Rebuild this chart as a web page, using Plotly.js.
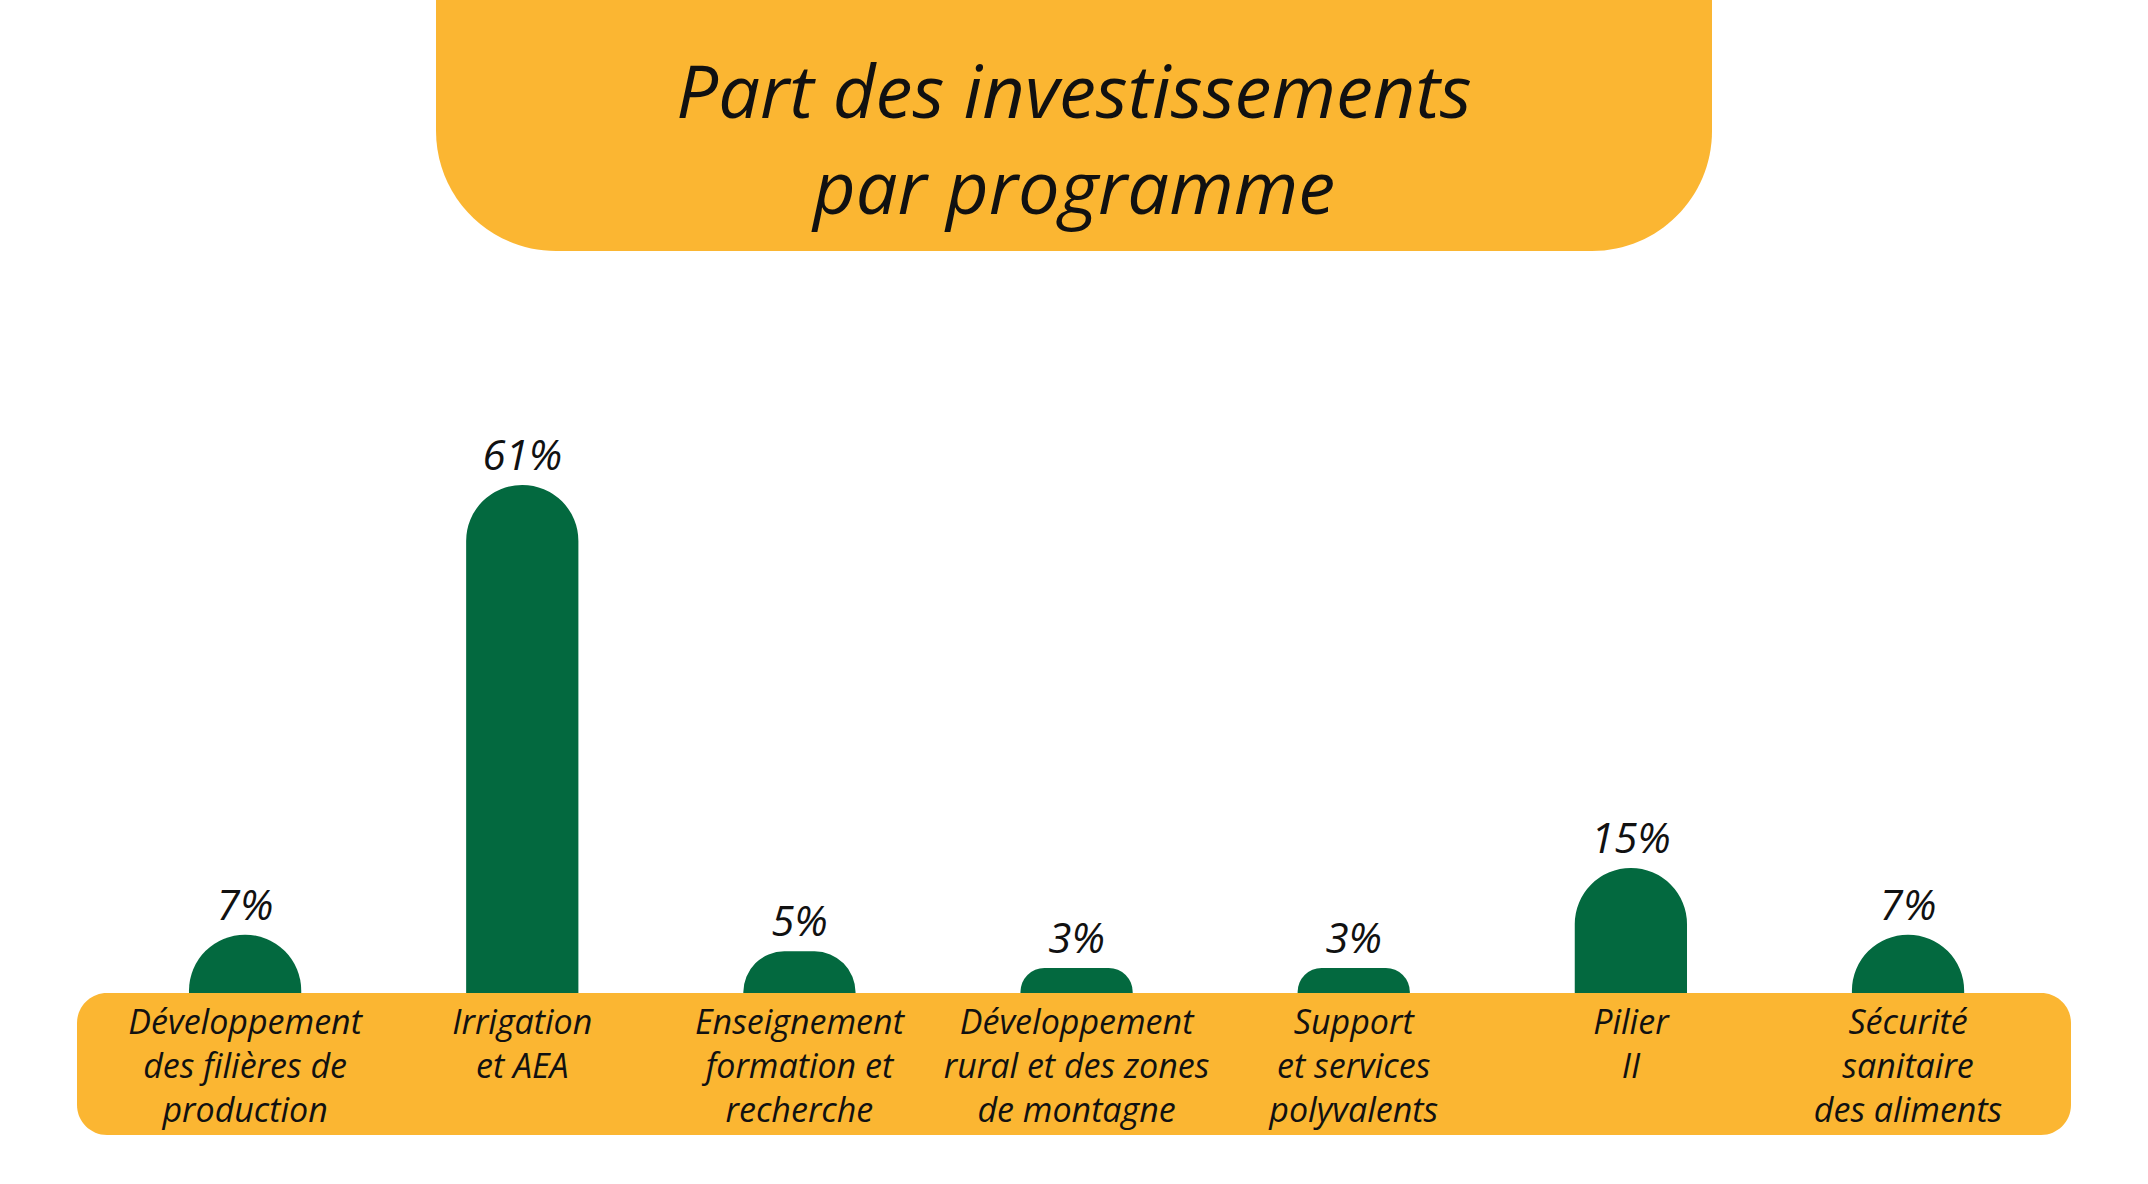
<!DOCTYPE html>
<html lang="fr">
<head>
<meta charset="utf-8">
<title>Part des investissements par programme</title>
<script src="https://cdn.plot.ly/plotly-3.0.1.min.js"></script>
<style>
  html, body { margin: 0; padding: 0; background: #ffffff; }
  #chart { width: 2148px; height: 1184px; }
</style>
</head>
<body>
<div id="chart"></div>
<script>
// Programmes and their share of total investment (%)
const programmes = [
  'Développement des filières de production',
  'Irrigation et AEA',
  'Enseignement formation et recherche',
  'Développement rural et des zones de montagne',
  'Support et services polyvalents',
  'Pilier II',
  'Sécurité sanitaire des aliments'
];
const shares = [7, 61, 5, 3, 3, 15, 7];
const tickLabels = [
  'Développement<br>des filières de<br>production',
  'Irrigation<br>et AEA',
  'Enseignement<br>formation et<br>recherche',
  'Développement<br>rural et des zones<br>de montagne',
  'Support<br>et services<br>polyvalents',
  'Pilier<br>II',
  'Sécurité<br>sanitaire<br>des aliments'
];
const titleLines = ['Part des investissements', 'par programme'];

const W = 2148, H = 1184;
const GREEN = '#03693f';
const ORANGE = '#fbb632';
const FONT = '"Open Sans", Lato, sans-serif';

// pixel -> paper helpers (margins are zero, so paper spans the whole page)
const px = x => x / W;
const py = y => 1 - y / H;
const K = 0.5523; // cubic bezier factor for a quarter circle

function pt(x, y) { return px(x).toFixed(5) + ',' + py(y).toFixed(5); }

// Banner behind the title: square top, rounded bottom corners
function bannerPath(x0, x1, yTop, yBot, r) {
  const k = K * r;
  return 'M' + pt(x0, yTop) +
    ' L' + pt(x0, yBot - r) +
    ' C' + pt(x0, yBot - r + k) + ' ' + pt(x0 + r - k, yBot) + ' ' + pt(x0 + r, yBot) +
    ' L' + pt(x1 - r, yBot) +
    ' C' + pt(x1 - r + k, yBot) + ' ' + pt(x1, yBot - r + k) + ' ' + pt(x1, yBot - r) +
    ' L' + pt(x1, yTop) + ' Z';
}

// Rounded rectangle for the category strip
function roundRectPath(x0, x1, y0, y1, r) {
  const k = K * r;
  return 'M' + pt(x0 + r, y0) +
    ' L' + pt(x1 - r, y0) +
    ' C' + pt(x1 - r + k, y0) + ' ' + pt(x1, y0 + r - k) + ' ' + pt(x1, y0 + r) +
    ' L' + pt(x1, y1 - r) +
    ' C' + pt(x1, y1 - r + k) + ' ' + pt(x1 - r + k, y1) + ' ' + pt(x1 - r, y1) +
    ' L' + pt(x0 + r, y1) +
    ' C' + pt(x0 + r - k, y1) + ' ' + pt(x0, y1 - r + k) + ' ' + pt(x0, y1 - r) +
    ' L' + pt(x0, y0 + r) +
    ' C' + pt(x0, y0 + r - k) + ' ' + pt(x0 + r - k, y0) + ' ' + pt(x0 + r, y0) + ' Z';
}

const stripTop = 993;

const trace = {
  type: 'bar',
  x: programmes,
  y: shares,
  text: shares.map(v => v + '%'),
  textposition: 'outside',
  cliponaxis: false,
  textfont: { family: FONT, size: 42, color: '#111111', style: 'italic' },
  marker: { color: GREEN, cornerradius: '50%', line: { width: 0 } },
  width: 0.405,
  hoverinfo: 'skip'
};

const layout = {
  width: W,
  height: H,
  margin: { l: 0, r: 0, t: 0, b: 0, pad: 0 },
  paper_bgcolor: '#ffffff',
  plot_bgcolor: 'rgba(0,0,0,0)',
  showlegend: false,
  title: {
    text: titleLines.join('<br>'),
    x: 0.5,
    xanchor: 'center',
    y: py(118),
    yanchor: 'middle',
    font: { family: FONT, size: 74, color: '#111111', style: 'italic' }
  },
  xaxis: {
    domain: [0.0496, 0.9528],
    type: 'category',
    tickvals: programmes,
    ticktext: tickLabels,
    ticks: '',
    showgrid: false,
    zeroline: false,
    showline: false,
    ticklabelstandoff: 6,
    tickfont: { family: FONT, size: 34, color: '#111111', style: 'italic' },
    fixedrange: true
  },
  yaxis: {
    domain: [py(stripTop), py(300)],
    range: [0, 83.2],
    visible: false,
    fixedrange: true
  },
  shapes: [
    {
      type: 'path', xref: 'paper', yref: 'paper', layer: 'below',
      path: bannerPath(436, 1712, -2, 251, 120),
      fillcolor: ORANGE, line: { width: 0 }
    },
    {
      type: 'path', xref: 'paper', yref: 'paper', layer: 'below',
      path: roundRectPath(77, 2071, stripTop, 1135, 30),
      fillcolor: ORANGE, line: { width: 0 }
    }
  ]
};

Plotly.newPlot('chart', [trace], layout, { staticPlot: true, displayModeBar: false });
</script>
</body>
</html>
